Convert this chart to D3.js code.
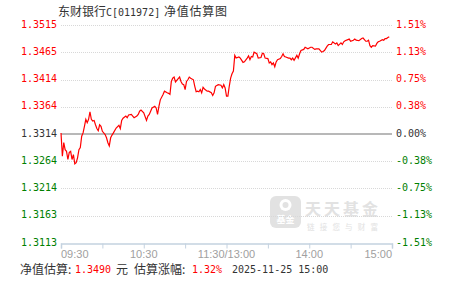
<!DOCTYPE html>
<html>
<head>
<meta charset="utf-8">
<script src="https://cdn.jsdelivr.net/npm/d3@7"></script>
<style>
  body { margin: 0; background: #fff; }
  svg { display: block; }
</style>
</head>
<body>
<div class="svg-container"></div>
<script>
// trading minutes since 09:30 (11:30 and 13:00 share one slot), estimated NAV
let minutes = [0,1,2,3,4,5,6,7,8,9,10,11,12,13,14,15,16,17,18,19,20,21,22,23,24,25,26,27,28,29,30,32,33,34,35,36,37,38,40,42,43,44,45,47,48,49,51,52,53,55,
  56,57,58,60,62,63,64,66,68,69,70,71,72,74,75,77,78,79,80,81,82,83,85,86,87,88,89,90,91,92,93,94,96,97,98,99,100,101,102,103,104,106,107,109,110,111,112,114,116,117,118,119,120,
  121,122,123,124,125,126,127,129,130,132,133,135,136,137,138,139,140,142,143,145,146,147,148,150,151,152,153,154,155,156,157,159,160,161,162,163,165,166,167,168,169,171,172,173,174,176,
  177,179,181,182,184,185,187,189,190,191,193,194,196,197,199,200,201,203,204,205,206,208,209,210,212,213,214,216,218,219,220,221,222,223,224,225,226,228,229,230,231,233,234,235,236,237,238]
let navs = [1.3316,1.3273,1.3298,1.3285,1.3282,1.3267,1.3280,1.3282,1.3267,1.3276,1.3259,1.3261,1.3270,1.3285,1.3289,1.3310,1.3316,1.3328,1.3341,1.3335,1.3341,1.3355,1.3341,1.3338,1.3339,1.3331,1.3324,1.3320,1.3331,1.3328,1.3319,1.3313,1.3307,1.3298,1.3292,1.3307,1.3312,1.3316,1.3325,1.3330,1.3324,1.3339,1.3343,1.3347,1.3344,1.3349,1.3350,1.3347,1.3344,1.3347,
  1.3350,1.3356,1.3358,1.3353,1.3339,1.3347,1.3350,1.3362,1.3365,1.3362,1.3350,1.3365,1.3377,1.3387,1.3393,1.3390,1.3389,1.3387,1.3411,1.3417,1.3419,1.3410,1.3416,1.3419,1.3411,1.3406,1.3405,1.3396,1.3411,1.3414,1.3419,1.3417,1.3414,1.3402,1.3392,1.3393,1.3392,1.3396,1.3390,1.3400,1.3397,1.3393,1.3393,1.3390,1.3385,1.3390,1.3402,1.3405,1.3404,1.3399,1.3405,1.3399,1.3384,
  1.3384,1.3402,1.3417,1.3425,1.3430,1.3459,1.3454,1.3456,1.3454,1.3446,1.3447,1.3454,1.3458,1.3451,1.3457,1.3456,1.3465,1.3462,1.3454,1.3455,1.3463,1.3462,1.3454,1.3453,1.3445,1.3447,1.3442,1.3445,1.3438,1.3447,1.3451,1.3453,1.3457,1.3462,1.3457,1.3456,1.3454,1.3454,1.3451,1.3454,1.3450,1.3459,1.3454,1.3462,1.3468,1.3470,
  1.3474,1.3471,1.3474,1.3474,1.3470,1.3471,1.3471,1.3465,1.3466,1.3468,1.3476,1.3479,1.3479,1.3484,1.3480,1.3482,1.3477,1.3482,1.3479,1.3484,1.3486,1.3488,1.3489,1.3485,1.3487,1.3489,1.3487,1.3486,1.3490,1.3491,1.3488,1.3485,1.3485,1.3487,1.3477,1.3474,1.3477,1.3476,1.3481,1.3484,1.3485,1.3488,1.3487,1.3490,1.3490,1.3492,1.3493]

let navTicks = [1.3515, 1.3465, 1.3414, 1.3364, 1.3314, 1.3264, 1.3214, 1.3163, 1.3113]
let pctTicks = ['1.51%', '1.13%', '0.75%', '0.38%', '0.00%', '-0.38%', '-0.75%', '-1.13%', '-1.51%']
let baseNav = 1.3314
let xTickMins = [0, 30, 60, 90, 120, 150, 180, 210, 240]
let xLabelMins = [0, 60, 120, 180, 240]
let xLabels = ['09:30', '10:30', '11:30/13:00', '14:00', '15:00']

let width = 451
let height = 281
let plotLeft = 61
let plotRight = 392
let plotTop = 25
let plotBottom = 243
let mono = '"DejaVu Sans Mono", monospace'
let cjk = '"Noto Sans CJK SC", sans-serif'

let x = d3.scaleLinear().domain([0, 240]).range([plotLeft, plotRight])
let y = d3.scaleLinear().domain([1.3113, 1.3515]).range([plotBottom, plotTop])

let svg = d3.select('.svg-container')
  .append('svg')
  .attr('width', width)
  .attr('height', height)

let colorFor = v => v > baseNav ? '#ff0000' : (v < baseNav ? '#008000' : '#333')

// watermark
let wm = svg.append('g')
wm.append('rect')
  .attr('x', 270).attr('y', 196).attr('width', 31).attr('height', 32).attr('rx', 6)
  .attr('fill', '#e2e2e2')
wm.append('circle').attr('cx', 285.5).attr('cy', 205).attr('r', 6).attr('fill', '#fff')
wm.append('circle').attr('cx', 285.5).attr('cy', 205).attr('r', 3).attr('fill', '#e2e2e2')
wm.append('text')
  .attr('x', 285.5).attr('y', 223)
  .attr('text-anchor', 'middle')
  .style('font-family', cjk).style('font-size', '9px').style('font-weight', 'bold')
  .attr('fill', '#fff')
  .text('基金')
wm.append('text')
  .attr('x', 305).attr('y', 215)
  .attr('textLength', 73)
  .style('font-family', cjk).style('font-size', '16px').style('font-weight', 'bold')
  .attr('fill', '#e2e2e2')
  .text('天天基金')
wm.append('text')
  .attr('x', 307).attr('y', 229.5)
  .attr('textLength', 71)
  .style('font-family', cjk).style('font-size', '7.5px')
  .attr('fill', '#e2e2e2')
  .text('链接您与财富')

// grid
svg.append('g')
  .selectAll('line')
  .data(navTicks.filter(d => d !== baseNav && d !== 1.3113))
  .enter()
  .append('line')
  .attr('x1', plotLeft).attr('x2', plotRight)
  .attr('y1', d => Math.round(y(d)) + 0.5).attr('y2', d => Math.round(y(d)) + 0.5)
  .attr('stroke', '#d8d8d8')
  .attr('stroke-dasharray', '1,1')

svg.append('line')
  .attr('x1', plotLeft).attr('x2', plotRight)
  .attr('y1', y(baseNav)).attr('y2', y(baseNav))
  .attr('stroke', '#a0a0a0')
  .attr('stroke-width', 1.6)

// x axis
let xAxis = d3.axisBottom(x)
  .tickValues(xTickMins)
  .tickSize(5)
  .tickFormat('')
let gx = svg.append('g')
  .attr('transform', `translate(0, ${plotBottom + 0.5})`)
  .call(xAxis)
gx.select('.domain').attr('stroke', '#c4d2e0').attr('stroke-width', 1.5)
gx.selectAll('.tick line').attr('stroke', '#c4d2e0')

svg.append('g')
  .selectAll('text')
  .data(xLabelMins)
  .enter()
  .append('text')
  .attr('x', d => x(d))
  .attr('y', 258)
  .attr('text-anchor', (d, i) => i === 0 ? 'start' : (i === xLabelMins.length - 1 ? 'end' : 'middle'))
  .style('font-family', '"Liberation Sans", Arial, sans-serif')
  .style('font-size', '11px')
  .attr('fill', '#a0a0a0')
  .text((d, i) => xLabels[i])

// left nav labels
svg.append('g')
  .selectAll('text')
  .data(navTicks)
  .enter()
  .append('text')
  .attr('x', 57)
  .attr('y', d => y(d) + 2.5)
  .attr('text-anchor', 'end')
  .style('font-family', mono)
  .style('font-size', '10px')
  .attr('fill', d => colorFor(d))
  .text(d => d.toFixed(4))

// right percent labels
svg.append('g')
  .selectAll('text')
  .data(navTicks)
  .enter()
  .append('text')
  .attr('x', 396)
  .attr('y', d => y(d) + 2.5)
  .style('font-family', mono)
  .style('font-size', '10px')
  .attr('fill', d => colorFor(d))
  .text((d, i) => pctTicks[i])

// nav line
let points = d3.zip(minutes, navs)
let line = d3.line()
  .x(d => x(d[0]))
  .y(d => y(d[1]))
svg.append('path')
  .datum(points)
  .attr('d', line)
  .attr('fill', 'none')
  .attr('stroke', '#ff0000')
  .attr('stroke-width', 1.2)
  .attr('stroke-linejoin', 'miter')

// title
let title = svg.append('g').attr('fill', '#333')
title.append('text').attr('x', 58).attr('y', 16)
  .style('font-family', cjk).style('font-size', '12px').text('东财银行')
title.append('text').attr('x', 106).attr('y', 16)
  .style('font-family', mono).style('font-size', '10px').text('C[011972]')
title.append('text').attr('x', 164).attr('y', 16)
  .attr('textLength', 63)
  .style('font-family', cjk).style('font-size', '12px').text('净值估算图')

// footer
let footer = svg.append('g')
footer.append('text').attr('x', 20).attr('y', 274).attr('fill', '#333')
  .style('font-family', cjk).style('font-size', '12px').text('净值估算:')
footer.append('text').attr('x', 75).attr('y', 273).attr('fill', '#ff0000')
  .style('font-family', mono).style('font-size', '10px').text('1.3490')
footer.append('text').attr('x', 116).attr('y', 274).attr('fill', '#333')
  .style('font-family', cjk).style('font-size', '12px').text('元')
footer.append('text').attr('x', 134).attr('y', 274).attr('fill', '#333')
  .style('font-family', cjk).style('font-size', '12px').text('估算涨幅:')
footer.append('text').attr('x', 192).attr('y', 273).attr('fill', '#ff0000')
  .style('font-family', mono).style('font-size', '10px').text('1.32%')
footer.append('text').attr('x', 232).attr('y', 273).attr('fill', '#333')
  .style('font-family', mono).style('font-size', '10px').text('2025-11-25 15:00')
</script>
</body>
</html>
